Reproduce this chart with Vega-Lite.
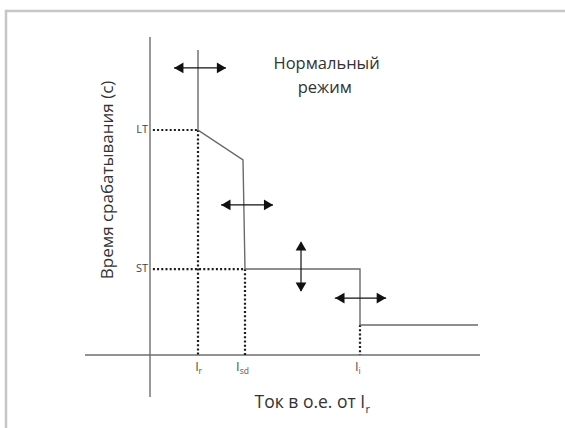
{
  "$schema": "https://vega.github.io/schema/vega-lite/v6.json",
  "width": 565,
  "height": 428,
  "padding": 0,
  "autosize": {"type": "none"},
  "background": "white",
  "config": {"view": {"stroke": null}, "text": {"font": "Open Sans"}},
  "datasets": {
    "frame": [
      {"x": -3.0, "y": 152.9, "x2": 8.7, "y2": 152.9},
      {"x": -3.0, "y": 153.4, "x2": -3.0, "y2": -33}
    ],
    "axes": [
      {"x": 0, "y": 141.3, "x2": 0, "y2": -18.7},
      {"x": -1.354, "y": 0, "x2": 6.875, "y2": 0}
    ],
    "curve": [
      {"o": 1, "x": 1.0, "y": 135.6},
      {"o": 2, "x": 1.0, "y": 100},
      {"o": 3, "x": 1.9375, "y": 86.67},
      {"o": 4, "x": 1.979, "y": 38.2},
      {"o": 5, "x": 4.375, "y": 38.2},
      {"o": 6, "x": 4.375, "y": 13.33},
      {"o": 7, "x": 6.833, "y": 13.33}
    ],
    "dotted": [
      {"x": 0.06, "y": 100, "x2": 1, "y2": 100},
      {"x": 0.06, "y": 38.2, "x2": 1.979, "y2": 38.2},
      {"x": 1, "y": 100, "x2": 1, "y2": 0},
      {"x": 1.979, "y": 38.2, "x2": 1.979, "y2": 0},
      {"x": 4.375, "y": 13.33, "x2": 4.375, "y2": 0}
    ],
    "shafts": [
      {"x": 0.5, "y": 127.6, "x2": 1.58, "y2": 127.6},
      {"x": 1.48, "y": 66.7, "x2": 2.56, "y2": 66.7},
      {"x": 3.146, "y": 50, "x2": 3.146, "y2": 28.5},
      {"x": 3.85, "y": 25.3, "x2": 4.92, "y2": 25.3}
    ],
    "heads": [
      {"x": 0.6, "y": 127.6, "shape": "triangle-left"},
      {"x": 1.49, "y": 127.6, "shape": "triangle-right"},
      {"x": 1.58, "y": 66.7, "shape": "triangle-left"},
      {"x": 2.47, "y": 66.7, "shape": "triangle-right"},
      {"x": 3.146, "y": 48.5, "shape": "triangle-up"},
      {"x": 3.146, "y": 30.2, "shape": "triangle-down"},
      {"x": 3.955, "y": 25.3, "shape": "triangle-left"},
      {"x": 4.82, "y": 25.3, "shape": "triangle-right"}
    ],
    "bigtext": [
      {"x": 3.68, "y": 129.3, "text": "Нормальный"},
      {"x": 3.64, "y": 118.5, "text": "режим"}
    ],
    "xtitle": [
      {"x": 3.33, "y": -21.5, "text": "Ток в о.е. от I"}
    ],
    "ytitle": [
      {"x": -0.875, "y": 77.8, "text": "Время срабатывания (с)"}
    ],
    "titlesub": [
      {"x": 4.49, "y": -24.4, "text": "r"}
    ],
    "ticks": [
      {"x": 0.98, "y": -5.3, "text": "I"},
      {"x": 1.83, "y": -5.3, "text": "I"},
      {"x": 4.31, "y": -5.3, "text": "I"}
    ],
    "ticksub": [
      {"x": 1.01, "y": -7.1, "text": "r"},
      {"x": 1.87, "y": -7.1, "text": "sd"},
      {"x": 4.345, "y": -7.1, "text": "i"}
    ],
    "levels": [
      {"x": -0.04, "y": 100, "text": "LT"},
      {"x": -0.04, "y": 38.2, "text": "ST"}
    ]
  },
  "encoding": {
    "x": {"field": "x", "type": "quantitative", "scale": {"domain": [-3.125, 8.6458], "nice": false, "zero": false}, "axis": null},
    "y": {"field": "y", "type": "quantitative", "scale": {"domain": [-32.44, 157.78], "nice": false, "zero": false}, "axis": null}
  },
  "layer": [
    {
      "data": {"name": "frame"},
      "mark": {"type": "rule", "color": "#c6c6c6", "strokeWidth": 2.5},
      "encoding": {"x2": {"field": "x2"}, "y2": {"field": "y2"}}
    },
    {
      "data": {"name": "axes"},
      "mark": {"type": "rule", "color": "#6e6e6e", "strokeWidth": 1.4},
      "encoding": {"x2": {"field": "x2"}, "y2": {"field": "y2"}}
    },
    {
      "data": {"name": "dotted"},
      "mark": {"type": "rule", "color": "#1a1a1a", "strokeWidth": 2.2, "strokeDash": [2, 2.2]},
      "encoding": {"x2": {"field": "x2"}, "y2": {"field": "y2"}}
    },
    {
      "data": {"name": "curve"},
      "mark": {"type": "line", "color": "#6a6a6a", "strokeWidth": 1.4},
      "encoding": {"order": {"field": "o", "type": "quantitative"}}
    },
    {
      "data": {"name": "shafts"},
      "mark": {"type": "rule", "color": "#111111", "strokeWidth": 1.2},
      "encoding": {"x2": {"field": "x2"}, "y2": {"field": "y2"}}
    },
    {
      "data": {"name": "heads"},
      "mark": {"type": "point", "filled": true, "color": "#111111", "size": 115, "opacity": 1},
      "encoding": {"shape": {"field": "shape", "type": "nominal", "scale": null}}
    },
    {
      "data": {"name": "bigtext"},
      "mark": {"type": "text", "fontSize": 16.5, "color": "#333333", "align": "center", "baseline": "middle"},
      "encoding": {"text": {"field": "text"}}
    },
    {
      "data": {"name": "xtitle"},
      "mark": {"type": "text", "fontSize": 17.5, "color": "#333333", "align": "center", "baseline": "middle"},
      "encoding": {"text": {"field": "text"}}
    },
    {
      "data": {"name": "ytitle"},
      "mark": {"type": "text", "fontSize": 17, "color": "#333333", "align": "center", "baseline": "middle", "angle": 270},
      "encoding": {"text": {"field": "text"}}
    },
    {
      "data": {"name": "titlesub"},
      "mark": {"type": "text", "fontSize": 11, "color": "#333333", "align": "left", "baseline": "middle"},
      "encoding": {"text": {"field": "text"}}
    },
    {
      "data": {"name": "ticks"},
      "mark": {"type": "text", "fontSize": 13, "color": "#555555", "align": "center", "baseline": "middle"},
      "encoding": {"text": {"field": "text"}}
    },
    {
      "data": {"name": "ticksub"},
      "mark": {"type": "text", "fontSize": 8.5, "color": "#555555", "align": "left", "baseline": "middle"},
      "encoding": {"text": {"field": "text"}}
    },
    {
      "data": {"name": "levels"},
      "mark": {"type": "text", "fontSize": 11, "color": "#444444", "align": "right", "baseline": "middle"},
      "encoding": {"text": {"field": "text"}}
    }
  ]
}
